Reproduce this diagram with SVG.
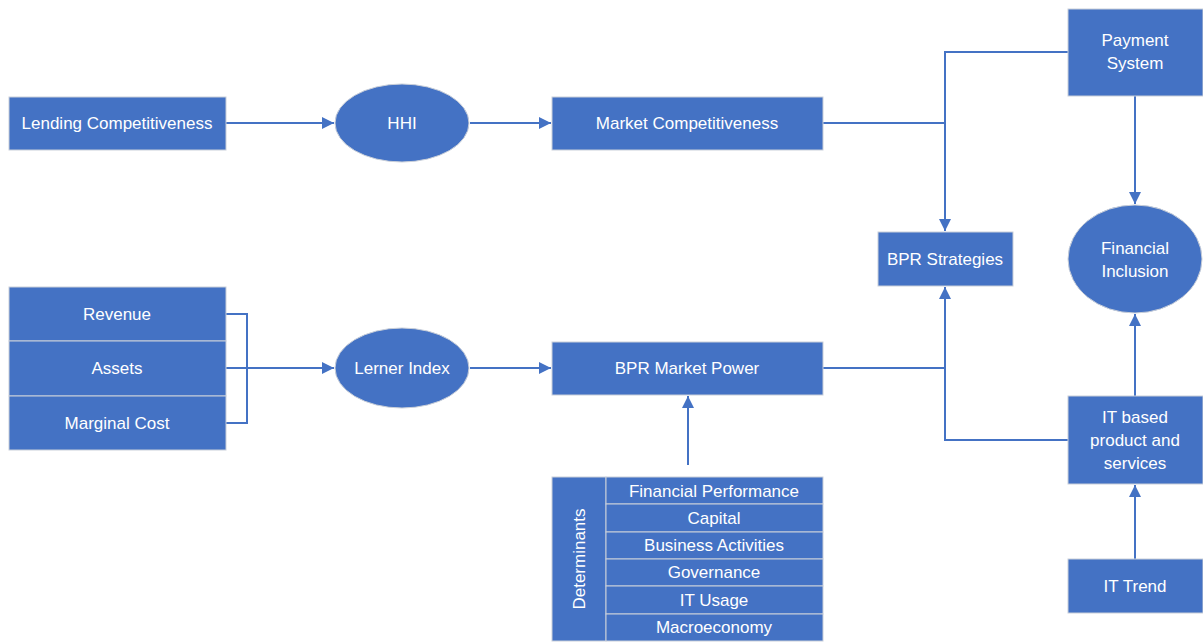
<svg xmlns="http://www.w3.org/2000/svg" width="1203" height="642" viewBox="0 0 1203 642">
<style>
.box{fill:#4472C4;stroke:#C9CFD9;stroke-width:1}
.cell{fill:#4472C4;stroke:#C9CFD9;stroke-width:1}
.t{font-family:"Liberation Sans",Arial,sans-serif;font-size:17px;fill:#FFFFFF;text-anchor:middle}
.c{fill:none;stroke:#4472C4;stroke-width:2}
</style>
<defs>
<marker id="arr" markerWidth="12" markerHeight="12" refX="12" refY="6" orient="auto" markerUnits="userSpaceOnUse">
<path d="M0,0 L12,6 L0,12 Z" fill="#4472C4"/>
</marker>
</defs>
<rect width="1203" height="642" fill="#FFFFFF"/>
<g id="connectors">
<path class="c" d="M226,123 H334" marker-end="url(#arr)"/>
<path class="c" d="M470,123 H551" marker-end="url(#arr)"/>
<path class="c" d="M823,123 H945"/>
<path class="c" d="M1068,52 H945 V231" marker-end="url(#arr)"/>
<path class="c" d="M1135,96 V204" marker-end="url(#arr)"/>
<path class="c" d="M226,314 H247 V423 H226"/>
<path class="c" d="M226,368 H334" marker-end="url(#arr)"/>
<path class="c" d="M470,368 H551" marker-end="url(#arr)"/>
<path class="c" d="M823,368 H945"/>
<path class="c" d="M1068,440 H945 V287" marker-end="url(#arr)"/>
<path class="c" d="M1135,396 V314" marker-end="url(#arr)"/>
<path class="c" d="M1135,559 V485" marker-end="url(#arr)"/>
<path class="c" d="M688,465 V396" marker-end="url(#arr)"/>
</g>
<g id="lending">
<rect class="box" x="9" y="97" width="217" height="53"/>
<text class="t" x="117" y="123" dy="0.35em">Lending Competitiveness</text>
</g>
<g id="hhi">
<ellipse class="box" cx="402" cy="123" rx="67" ry="39"/>
<text class="t" x="402" y="123" dy="0.35em">HHI</text>
</g>
<g id="market-competitiveness">
<rect class="box" x="552" y="97" width="271" height="53"/>
<text class="t" x="687" y="123" dy="0.35em">Market Competitiveness</text>
</g>
<g id="payment-system">
<rect class="box" x="1068" y="9" width="135" height="87"/>
<text class="t" x="1135" y="40" dy="0.35em">Payment</text>
<text class="t" x="1135" y="63" dy="0.35em">System</text>
</g>
<g id="bpr-strategies">
<rect class="box" x="878" y="232" width="135" height="54"/>
<text class="t" x="945" y="259" dy="0.35em">BPR Strategies</text>
</g>
<g id="financial-inclusion">
<ellipse class="box" cx="1135" cy="259" rx="67" ry="54"/>
<text class="t" x="1135" y="248" dy="0.35em">Financial</text>
<text class="t" x="1135" y="271" dy="0.35em">Inclusion</text>
</g>
<g id="inputs">
<rect class="cell" x="9" y="287" width="217" height="54"/>
<text class="t" x="117" y="314" dy="0.35em">Revenue</text>
<rect class="cell" x="9" y="341" width="217" height="55"/>
<text class="t" x="117" y="368" dy="0.35em">Assets</text>
<rect class="cell" x="9" y="396" width="217" height="54"/>
<text class="t" x="117" y="423" dy="0.35em">Marginal Cost</text>
</g>
<g id="lerner">
<ellipse class="box" cx="402" cy="368" rx="67" ry="40"/>
<text class="t" x="402" y="368" dy="0.35em">Lerner Index</text>
</g>
<g id="bpr-market-power">
<rect class="box" x="552" y="342" width="271" height="53"/>
<text class="t" x="687" y="368" dy="0.35em">BPR Market Power</text>
</g>
<g id="it-based">
<rect class="box" x="1068" y="396" width="135" height="88"/>
<text class="t" x="1135" y="417" dy="0.35em">IT based</text>
<text class="t" x="1135" y="440" dy="0.35em">product and</text>
<text class="t" x="1135" y="463" dy="0.35em">services</text>
</g>
<g id="it-trend">
<rect class="box" x="1068" y="559" width="135" height="54"/>
<text class="t" x="1135" y="586" dy="0.35em">IT Trend</text>
</g>
<g id="determinants">
<rect class="cell" x="552" y="477" width="54" height="164"/>
<text class="t" x="579" y="559" dy="0.35em" transform="rotate(-90 579 559)">Determinants</text>
<rect class="cell" x="606" y="477" width="217" height="27"/>
<text class="t" x="714" y="491" dy="0.35em">Financial Performance</text>
<rect class="cell" x="606" y="504" width="217" height="28"/>
<text class="t" x="714" y="518" dy="0.35em">Capital</text>
<rect class="cell" x="606" y="532" width="217" height="27"/>
<text class="t" x="714" y="545" dy="0.35em">Business Activities</text>
<rect class="cell" x="606" y="559" width="217" height="27"/>
<text class="t" x="714" y="572" dy="0.35em">Governance</text>
<rect class="cell" x="606" y="586" width="217" height="28"/>
<text class="t" x="714" y="600" dy="0.35em">IT Usage</text>
<rect class="cell" x="606" y="614" width="217" height="27"/>
<text class="t" x="714" y="627" dy="0.35em">Macroeconomy</text>
</g>
</svg>
